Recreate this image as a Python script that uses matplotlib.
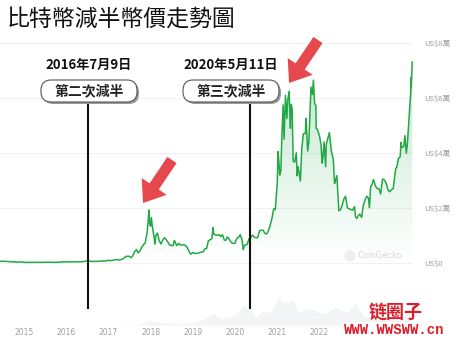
import numpy as np
import pandas as pd
import matplotlib
matplotlib.use('Agg')
from matplotlib import pyplot as plt
from matplotlib.patches import FancyArrow, FancyBboxPatch, Circle, Polygon

# BTC price (USD), semi-monthly plus a few peak/trough days
dates = [
    '2014-06-01', '2014-06-15', '2014-07-01', '2014-07-15', '2014-08-01', '2014-08-15', '2014-09-01', '2014-09-15',
    '2014-10-01', '2014-10-15', '2014-11-01', '2014-11-15', '2014-12-01', '2014-12-15',
    '2015-01-01', '2015-01-15', '2015-02-01', '2015-02-15', '2015-03-01', '2015-03-15', '2015-04-01', '2015-04-15',
    '2015-05-01', '2015-05-15', '2015-06-01', '2015-06-15', '2015-07-01', '2015-07-15', '2015-08-01', '2015-08-15',
    '2015-09-01', '2015-09-15', '2015-10-01', '2015-10-15', '2015-11-01', '2015-11-15', '2015-12-01', '2015-12-15',
    '2016-01-01', '2016-01-15', '2016-02-01', '2016-02-15', '2016-03-01', '2016-03-15', '2016-04-01', '2016-04-15',
    '2016-05-01', '2016-05-15', '2016-06-01', '2016-06-15', '2016-07-01', '2016-07-15', '2016-08-01', '2016-08-15',
    '2016-09-01', '2016-09-15', '2016-10-01', '2016-10-15', '2016-11-01', '2016-11-15', '2016-12-01', '2016-12-15',
    '2017-01-01', '2017-01-15', '2017-02-01', '2017-02-15', '2017-03-01', '2017-03-15', '2017-04-01', '2017-04-15',
    '2017-05-01', '2017-05-15', '2017-06-01', '2017-06-15', '2017-07-01', '2017-07-15', '2017-08-01', '2017-08-15',
    '2017-09-01', '2017-09-15', '2017-10-01', '2017-10-15', '2017-11-01', '2017-11-15', '2017-12-01', '2017-12-10',
    '2017-12-17', '2017-12-24',
    '2018-01-01', '2018-01-07', '2018-01-15', '2018-02-01', '2018-02-06', '2018-02-15', '2018-03-01', '2018-03-15',
    '2018-04-01', '2018-04-15', '2018-05-01', '2018-05-15', '2018-06-01', '2018-06-15', '2018-07-01', '2018-07-15',
    '2018-07-25', '2018-08-01', '2018-08-15', '2018-09-01', '2018-09-15', '2018-10-01', '2018-10-15', '2018-11-01',
    '2018-11-15', '2018-12-01', '2018-12-15',
    '2019-01-01', '2019-01-15', '2019-02-01', '2019-02-15', '2019-03-01', '2019-03-15', '2019-04-01', '2019-04-15',
    '2019-05-01', '2019-05-15', '2019-06-01', '2019-06-15', '2019-06-26', '2019-07-01', '2019-07-15', '2019-08-01',
    '2019-08-15', '2019-09-01', '2019-09-15', '2019-10-01', '2019-10-15', '2019-10-26', '2019-11-01', '2019-11-15',
    '2019-12-01', '2019-12-15',
    '2020-01-01', '2020-01-15', '2020-02-01', '2020-02-15', '2020-03-01', '2020-03-13', '2020-03-20', '2020-04-01',
    '2020-04-15', '2020-05-01', '2020-05-11', '2020-05-20', '2020-06-01', '2020-06-15', '2020-07-01', '2020-07-15',
    '2020-08-01', '2020-08-15', '2020-09-01', '2020-09-15', '2020-10-01', '2020-10-15', '2020-11-01', '2020-11-15',
    '2020-12-01', '2020-12-15',
    '2021-01-01', '2021-01-08', '2021-01-15', '2021-01-22', '2021-02-01', '2021-02-10', '2021-02-21', '2021-03-01',
    '2021-03-13', '2021-03-25', '2021-04-01', '2021-04-14', '2021-04-25', '2021-05-01', '2021-05-10', '2021-05-19',
    '2021-06-01', '2021-06-15', '2021-06-22', '2021-07-01', '2021-07-20', '2021-08-01', '2021-08-15', '2021-09-01',
    '2021-09-07', '2021-09-21', '2021-10-01', '2021-10-20', '2021-11-01', '2021-11-10', '2021-11-20', '2021-12-01',
    '2021-12-04', '2021-12-15',
    '2022-01-01', '2022-01-15', '2022-01-24', '2022-02-01', '2022-02-10', '2022-02-24', '2022-03-01', '2022-03-28',
    '2022-04-15', '2022-05-01', '2022-05-12', '2022-05-20', '2022-06-01', '2022-06-18', '2022-07-01', '2022-07-15',
    '2022-08-01', '2022-08-15', '2022-09-01', '2022-09-15', '2022-10-01', '2022-10-15', '2022-11-01', '2022-11-09',
    '2022-11-20', '2022-12-01', '2022-12-15',
    '2023-01-01', '2023-01-15', '2023-02-01', '2023-02-15', '2023-03-01', '2023-03-10', '2023-03-20', '2023-04-01',
    '2023-04-14', '2023-05-01', '2023-05-15', '2023-06-01', '2023-06-15', '2023-07-01', '2023-07-15', '2023-08-01',
    '2023-08-17', '2023-09-01', '2023-09-15', '2023-10-01', '2023-10-24', '2023-11-01', '2023-11-15', '2023-12-01',
    '2023-12-08', '2023-12-15',
    '2024-01-01', '2024-01-11', '2024-01-23', '2024-02-01', '2024-02-15', '2024-03-01', '2024-03-05', '2024-03-06',
    '2024-03-14',
]
prices = [
    640, 590, 640, 620, 590, 500, 475, 475,
    385, 395, 325, 400, 380, 350,
    315, 210, 225, 235, 260, 285, 245, 220,
    235, 237, 223, 237, 258, 285, 280, 260,
    228, 230, 237, 255, 325, 320, 360, 455,
    434, 385, 372, 400, 435, 415, 416, 430,
    450, 455, 535, 690, 675, 665, 605, 570,
    572, 610, 615, 640, 730, 710, 750, 780,
    1000, 820, 990, 1010, 1220, 1240, 1090, 1180,
    1420, 1730, 2400, 2440, 2430, 1930, 2720, 4170,
    4890, 3700, 4400, 5680, 6740, 7300, 10900, 15000,
    19300, 14200,
    13400, 16500, 13600, 9100, 6900, 10100, 10900, 8200,
    6900, 8300, 9200, 8500, 7500, 6500, 6400, 6300,
    8200, 7600, 6300, 7200, 6500, 6600, 6600, 6350,
    5600, 4000, 3200,
    3800, 3600, 3450, 3600, 3800, 3900, 4100, 5100,
    5300, 8000, 8500, 8800, 12900, 10600, 10200, 10100,
    10300, 9600, 10300, 8300, 8300, 9500, 9200, 8500,
    7400, 7100,
    7200, 8800, 9400, 10300, 8600, 4900, 6200, 6600,
    6700, 8800, 8600, 9500, 10200, 9400, 9200, 9200,
    11800, 11900, 11900, 10800, 10600, 11500, 13800, 16000,
    19700, 19400,
    29000, 40500, 36800, 32000, 33500, 46000, 57500, 45000,
    61000, 52500, 58900, 62500, 49000, 57700, 56000, 37000,
    36700, 40100, 31700, 35000, 29800, 41500, 47000, 47100,
    52600, 40700, 43800, 64000, 61300, 66500, 58000, 57200,
    49000, 48500,
    46300, 43000, 36300, 38500, 44000, 35000, 43200, 47400,
    40500, 37700, 28900, 30000, 31800, 19000, 19300, 20800,
    23300, 24300, 20000, 19700, 19400, 19200, 20500, 16800,
    16200, 17100, 17800,
    16600, 20800, 23100, 24300, 23600, 20100, 27800, 28500,
    30400, 28000, 27100, 27000, 25100, 30500, 30300, 29200,
    26600, 25900, 26600, 27000, 34500, 34700, 37900, 38700,
    43800, 42000,
    42300, 46300, 39900, 43100, 51900, 61900, 67500, 63800,
    73100,
]

# daily trading volume (USD bn), quarterly
vol_dates = [
    '2014-06-01', '2014-10-01', '2015-01-01', '2015-04-01', '2015-07-01', '2015-10-01', '2016-01-01', '2016-04-01',
    '2016-07-01', '2016-10-01', '2017-01-01', '2017-04-01', '2017-07-01', '2017-10-01', '2017-12-15', '2018-01-15',
    '2018-04-01', '2018-07-01', '2018-10-01', '2019-01-01', '2019-04-01', '2019-06-26', '2019-09-01', '2019-11-01',
    '2020-01-15', '2020-03-13', '2020-05-01', '2020-07-01', '2020-09-01', '2020-11-01', '2021-01-10', '2021-02-25',
    '2021-05-19', '2021-07-01', '2021-09-01', '2021-11-10', '2022-01-01', '2022-03-01', '2022-05-12', '2022-06-18',
    '2022-09-01', '2022-11-09', '2023-01-15', '2023-04-01', '2023-07-01', '2023-10-01', '2024-01-01', '2024-03-14',
]
volumes = [
    0.03, 0.03, 0.04, 0.03, 0.03, 0.05, 0.06, 0.05,
    0.08, 0.08, 0.15, 0.3, 1.0, 2.0, 12, 10,
    6, 4.5, 4, 5, 14, 30, 16, 18,
    26, 50, 40, 20, 35, 30, 70, 55,
    62, 30, 40, 38, 30, 28, 45, 40,
    32, 55, 22, 20, 14, 18, 25, 50,
]

year_ticks = ['2015', '2016', '2017', '2018', '2019', '2020', '2021', '2022']
price_ticks = [0, 2, 4, 6, 8]
price_labels = ['US$0', 'US$2萬', 'US$4萬', 'US$6萬', 'US$8萬']
halvings = ['2016-07-09', '2020-05-11']

t = pd.to_datetime(dates)
p = np.array(prices) / 10000.0
tv = pd.to_datetime(vol_dates)
v = np.array(volumes)

W, H = 457, 340
fig = plt.figure(figsize=(W / 100, H / 100), dpi=100)
fig.patch.set_facecolor('white')
cjk = ['Noto Sans CJK TC', 'DejaVu Sans']
xlim = (pd.Timestamp('2014-06-07'), pd.Timestamp('2024-03-21'))

# volume strip
axv = fig.add_axes([0, 15 / H, 413 / W, 40 / H])
axv.set_facecolor('none')
axv.fill_between(tv, 0, v, color='#f3f4f6', lw=0)
axv.set_xlim(xlim)
axv.set_ylim(0, 100)
axv.set_yticks([])
axv.set_xticks(pd.to_datetime([y + '-01-01' for y in year_ticks]))
axv.set_xticklabels(year_ticks, fontsize=5.5, color='#a0a0a0')
axv.tick_params(axis='x', length=0, pad=2)
for s in axv.spines.values():
    s.set_visible(False)

# price
ax = fig.add_axes([0, 70 / H, 413 / W, 230 / H])
ax.set_facecolor('none')
ax.set_xlim(xlim)
ax.set_ylim(-7 * 2 / 55, 223 * 2 / 55)
ax.set_yticks(price_ticks)
ax.set_yticklabels(price_labels, fontsize=5.5, color='#a0a0a0', family=cjk)
ax.yaxis.tick_right()
ax.tick_params(axis='y', length=0, pad=8)
ax.set_xticks([])
ax.grid(axis='y', color='#f1f1f1', lw=0.8)
ax.set_axisbelow(True)
for s in ax.spines.values():
    s.set_visible(False)

# gradient fill under the line
tn = matplotlib.dates.date2num(t)
grad = np.linspace(0.28, 0.0, 256).reshape(-1, 1)
rgba = np.zeros((256, 1, 4))
rgba[..., 0] = 0.13
rgba[..., 1] = 0.66
rgba[..., 2] = 0.30
rgba[..., 3] = grad
x0, x1 = matplotlib.dates.date2num(xlim[0]), matplotlib.dates.date2num(xlim[1])
im = ax.imshow(rgba, extent=(x0, x1, 0, 7.5), aspect='auto', origin='upper', zorder=1)
poly = Polygon(np.column_stack([np.r_[tn[0], tn, tn[-1]], np.r_[0, p, 0]]),
               closed=True, transform=ax.transData, fc='none', ec='none')
ax.add_patch(poly)
im.set_clip_path(poly)
ax.set_xlim(xlim)
ax.set_ylim(-7 * 2 / 55, 223 * 2 / 55)

ax.plot(t, p, color='#22a845', lw=1.1, zorder=3)

# halving lines
for d in halvings:
    ax.plot([pd.Timestamp(d)] * 2, [-45 * 2 / 55, 160 * 2 / 55], color='#111111',
            lw=1.5, clip_on=False, zorder=4)

# overlay in pixel coordinates
ov = fig.add_axes([0, 0, 1, 1])
ov.set_xlim(0, W)
ov.set_ylim(H, 0)
ov.axis('off')
ov.patch.set_alpha(0)

ov.text(7, 19, '比特幣減半幣價走勢圖', fontsize=16.5, family=cjk, va='center', ha='left', color='#111111')

for cx, date_txt, box_txt in [(89, '2016年7月9日', '第二次減半'), (231, '2020年5月11日', '第三次減半')]:
    ov.text(cx, 65, date_txt, fontsize=9.5, weight='bold', family=cjk, ha='center', va='center', color='#111111')
    ov.add_patch(FancyBboxPatch((cx - 48 + 2, 80 + 2), 96, 22, boxstyle='round,pad=0,rounding_size=10',
                                fc='#9a9a9a', ec='none', zorder=5))
    ov.add_patch(FancyBboxPatch((cx - 48, 80), 96, 22, boxstyle='round,pad=0,rounding_size=10',
                                fc='white', ec='#555555', lw=0.8, zorder=6))
    ov.text(cx, 91, box_txt, fontsize=10, weight='bold', family=cjk, ha='center', va='center',
            color='#222222', zorder=7)

for (xs, ys, xe, ye) in [(172, 160, 143, 203), (318, 40, 289, 83)]:
    ov.add_patch(FancyArrow(xs, ys, xe - xs, ye - ys, width=11, head_width=30, head_length=20,
                            length_includes_head=True, fc='#e5484d', ec='none', zorder=8))

# CoinGecko mark
ov.add_patch(Circle((350, 256), 5.5, fc='#eeeeee', ec='none'))
ov.text(358, 256, 'CoinGecko', fontsize=6, color='#d6d6d6', va='center', ha='left')

# watermark
ov.text(396, 312, '链圈子', fontsize=13, weight='heavy', family=['Noto Sans CJK SC', 'DejaVu Sans'],
        color='#d9202a', ha='center', va='center', zorder=9)
ov.text(394, 329.5, 'WWW.WWSWW.cn', fontsize=10, weight='bold', family='Liberation Mono',
        color='#d9202a', ha='center', va='center', zorder=9,
        bbox=dict(fc='white', ec='none', pad=0.3))

fig.savefig('out.png', dpi=100, facecolor='white')
